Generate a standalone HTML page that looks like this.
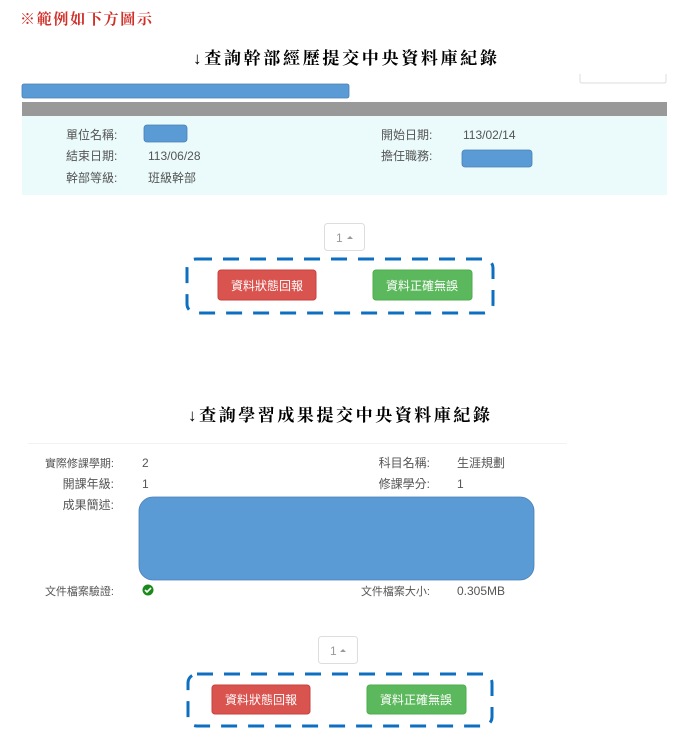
<!DOCTYPE html>
<html><head><meta charset="utf-8"><style>
html,body{margin:0;padding:0;background:#fff;width:681px;height:745px;overflow:hidden}
svg{display:block}
.s{font-family:"Liberation Sans","Noto Sans CJK TC",sans-serif;fill:#555;font-size:12px}
.t{font-family:"Liberation Serif","Noto Serif CJK SC",serif;font-weight:bold;font-size:17px;fill:#000}
.b{font-family:"Liberation Sans","Noto Sans CJK TC",sans-serif;fill:#fff;font-size:12px}
</style></head><body>
<svg width="681" height="745" viewBox="0 0 681 745">
<text x="20" y="24" font-family="Liberation Serif,'Noto Serif CJK SC',serif" font-weight="bold" font-size="15" fill="#d0302a" textLength="132" lengthAdjust="spacing">※範例如下方圖示</text>
<text x="193" y="64" class="t" textLength="304" lengthAdjust="spacing">↓查詢幹部經歷提交中央資料庫紀錄</text>
<path d="M580 74 v7 q0 2 2 2 h82 q2 0 2 -2 v-7" fill="none" stroke="#ddd"/>
<rect x="22" y="84" width="327" height="14" rx="2" fill="#5b9bd5" stroke="#4a7fb5" stroke-width="0.8"/>
<rect x="22" y="102" width="645" height="14" fill="#999"/>
<rect x="22" y="116" width="645" height="79" fill="#ebfafa"/>
<text x="66" y="139" class="s">單位名稱:</text>
<rect x="144" y="125" width="43" height="17" rx="3" fill="#5b9bd5" stroke="#4a7fb5" stroke-width="0.8"/>
<text x="381" y="139" class="s">開始日期:</text>
<text x="463" y="139" class="s">113/02/14</text>
<text x="66" y="160" class="s">結束日期:</text>
<text x="148" y="160" class="s">113/06/28</text>
<text x="381" y="160" class="s">擔任職務:</text>
<rect x="462" y="150" width="70" height="17" rx="3" fill="#5b9bd5" stroke="#4a7fb5" stroke-width="0.8"/>
<text x="66" y="182" class="s">幹部等級:</text>
<text x="148" y="182" class="s">班級幹部</text>
<rect x="324.5" y="223.5" width="40" height="27" rx="3" fill="#fff" stroke="#ddd"/>
<text x="336" y="242" class="s" style="fill:#999">1</text>
<path d="M347 239 l3 -3 l3 3z" fill="#999"/>
<rect x="187" y="259" width="306" height="54" rx="9" fill="none" stroke="#0e6fc0" stroke-width="3" stroke-dasharray="16,11"/>
<rect x="218" y="270" width="98" height="30" rx="3" fill="#d9534f" stroke="#c9403c"/>
<text x="267" y="290" text-anchor="middle" class="b">資料狀態回報</text>
<rect x="373" y="270" width="99" height="30" rx="3" fill="#5cb85c" stroke="#4cae4c"/>
<text x="422" y="290" text-anchor="middle" class="b">資料正確無誤</text>
<text x="188" y="421" class="t" textLength="302" lengthAdjust="spacing">↓查詢學習成果提交中央資料庫紀錄</text>
<line x1="28" y1="443.5" x2="567" y2="443.5" stroke="#eef3f3"/>
<text x="114" y="467" text-anchor="end" class="s" style="font-size:11px">實際修課學期:</text>
<text x="142" y="467" class="s">2</text>
<text x="430" y="467" text-anchor="end" class="s">科目名稱:</text>
<text x="457" y="467" class="s">生涯規劃</text>
<text x="114" y="488" text-anchor="end" class="s">開課年級:</text>
<text x="142" y="488" class="s">1</text>
<text x="430" y="488" text-anchor="end" class="s">修課學分:</text>
<text x="457" y="488" class="s">1</text>
<text x="114" y="509" text-anchor="end" class="s">成果簡述:</text>
<rect x="139" y="497" width="395" height="83" rx="14" fill="#5b9bd5" stroke="#4a7fb5" stroke-width="0.8"/>
<text x="114" y="595" text-anchor="end" class="s" style="font-size:11px">文件檔案驗證:</text>
<circle cx="148" cy="590" r="5.5" fill="#1a8a1a"/>
<path d="M145 590 l2 2 l4 -4" stroke="#fff" stroke-width="1.6" fill="none"/>
<text x="430" y="595" text-anchor="end" class="s" style="font-size:11px">文件檔案大小:</text>
<text x="457" y="595" class="s">0.305MB</text>
<rect x="318.5" y="636.5" width="39" height="27" rx="3" fill="#fff" stroke="#ddd"/>
<text x="330" y="655" class="s" style="fill:#999">1</text>
<path d="M340 652 l3 -3 l3 3z" fill="#999"/>
<rect x="188" y="674" width="304" height="52" rx="9" fill="none" stroke="#0e6fc0" stroke-width="3" stroke-dasharray="16,11"/>
<rect x="212" y="685" width="98" height="29" rx="3" fill="#d9534f" stroke="#c9403c"/>
<text x="261" y="704" text-anchor="middle" class="b">資料狀態回報</text>
<rect x="367" y="685" width="99" height="29" rx="3" fill="#5cb85c" stroke="#4cae4c"/>
<text x="416" y="704" text-anchor="middle" class="b">資料正確無誤</text>
</svg>
</body></html>
